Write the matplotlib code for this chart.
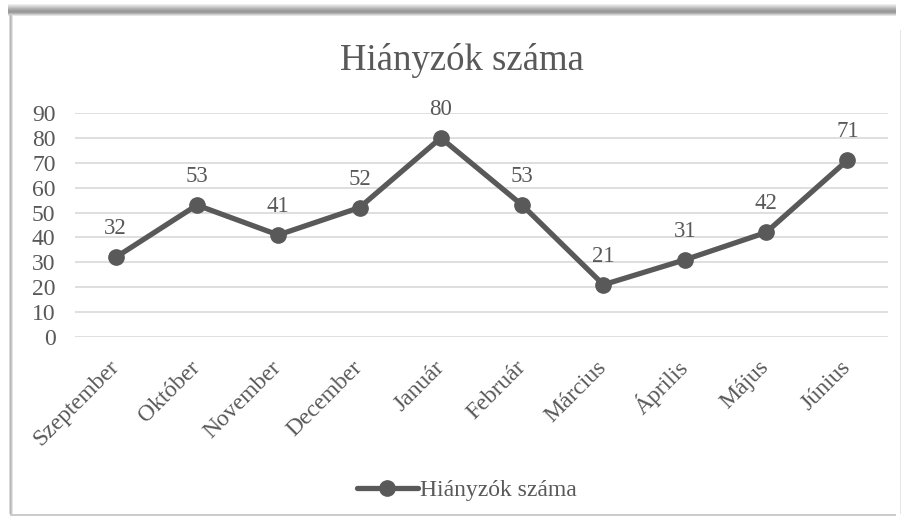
import matplotlib
matplotlib.use("Agg")
import matplotlib.pyplot as plt
from matplotlib.patches import Rectangle
import matplotlib.transforms as mtransforms

categories = ["Szeptember", "Október", "November", "December", "Január",
              "Február", "Március", "Április", "Május", "Június"]
values = [32, 53, 41, 52, 80, 53, 21, 31, 42, 71]
series_name = "Hiányzók száma"
title = "Hiányzók száma"
yticks = list(range(0, 100, 10))

plt.rcParams['font.family'] = ['Liberation Serif', 'DejaVu Serif']
txt = "#595959"
line_c = "#595959"

fig = plt.figure(figsize=(9.04, 5.18), dpi=100)
fig.patch.set_facecolor("white")

# frame with shadow
W, H = 904, 518
def fx(px): return px / W
def fy(py): return 1 - py / H
shades = [0.93, 0.88, 0.82, 0.76, 0.70, 0.66, 0.62, 0.60, 0.62, 0.70, 0.80, 0.90]
for i, g in enumerate(shades):
    fig.patches.append(Rectangle((fx(8), fy(4 + i + 1)), fx(888), fy(4 + i) - fy(4 + i + 1),
                                 transform=fig.transFigure, facecolor=(g, g, g),
                                 edgecolor="none", zorder=0))
for i, g in enumerate([0.85, 0.72, 0.78, 0.9]):
    fig.patches.append(Rectangle((fx(9 + i), fy(514)), fx(1), fy(15) - fy(514),
                                 transform=fig.transFigure, facecolor=(g, g, g),
                                 edgecolor="none", zorder=0))
fig.patches.append(Rectangle((fx(10), fy(516)), fx(886), fy(514) - fy(516),
                             transform=fig.transFigure, facecolor=(0.8, 0.8, 0.8),
                             edgecolor="none", zorder=0))
fig.patches.append(Rectangle((fx(900), fy(514)), fx(1), fy(30) - fy(514),
                             transform=fig.transFigure, facecolor=(0.9, 0.9, 0.9),
                             edgecolor="none", zorder=0))

ax = fig.add_axes([75 / W, 1 - 337 / H, (888 - 75) / W, (337 - 113) / H])
ax.set_zorder(2)
ax.set_facecolor("none")
x = list(range(len(categories)))
ax.plot(x, values, color=line_c, lw=3.8, marker="o", markersize=11,
        solid_capstyle="round", label=series_name, zorder=3)
for xi, v in zip(x, values):
    ax.annotate(str(v), (xi, v), xytext=(0, 13), textcoords="offset points",
                ha="center", va="bottom", fontsize=16.5, color=txt)

ax.set_xlim(-0.5, len(categories) - 0.5)
ax.set_ylim(0, 90)
ax.set_yticks(yticks)
ax.yaxis.grid(True, color="#d9d9d9", lw=1.2)
ax.set_axisbelow(True)
for s in ax.spines.values():
    s.set_visible(False)
ax.tick_params(axis="both", length=0, labelsize=17, labelcolor=txt)
ax.tick_params(axis="y", pad=14)
ax.set_xticks(x)
ax.set_xticklabels(categories, rotation=45, ha="right", va="center",
                   rotation_mode="anchor")
offset = mtransforms.ScaledTranslation(0 / 72, -16 / 72, fig.dpi_scale_trans)
for lab in ax.get_xticklabels():
    lab.set_transform(lab.get_transform() + offset)

fig.text(fx(462), fy(60), title, ha="center", va="center", fontsize=26.5, color=txt)

leg = ax.legend(loc="center", bbox_to_anchor=(fx(467), fy(490)), bbox_transform=fig.transFigure,
                frameon=False, fontsize=17, handlelength=2.6, handletextpad=0.1,
                labelcolor=txt)

fig.savefig("out.png", dpi=100)
